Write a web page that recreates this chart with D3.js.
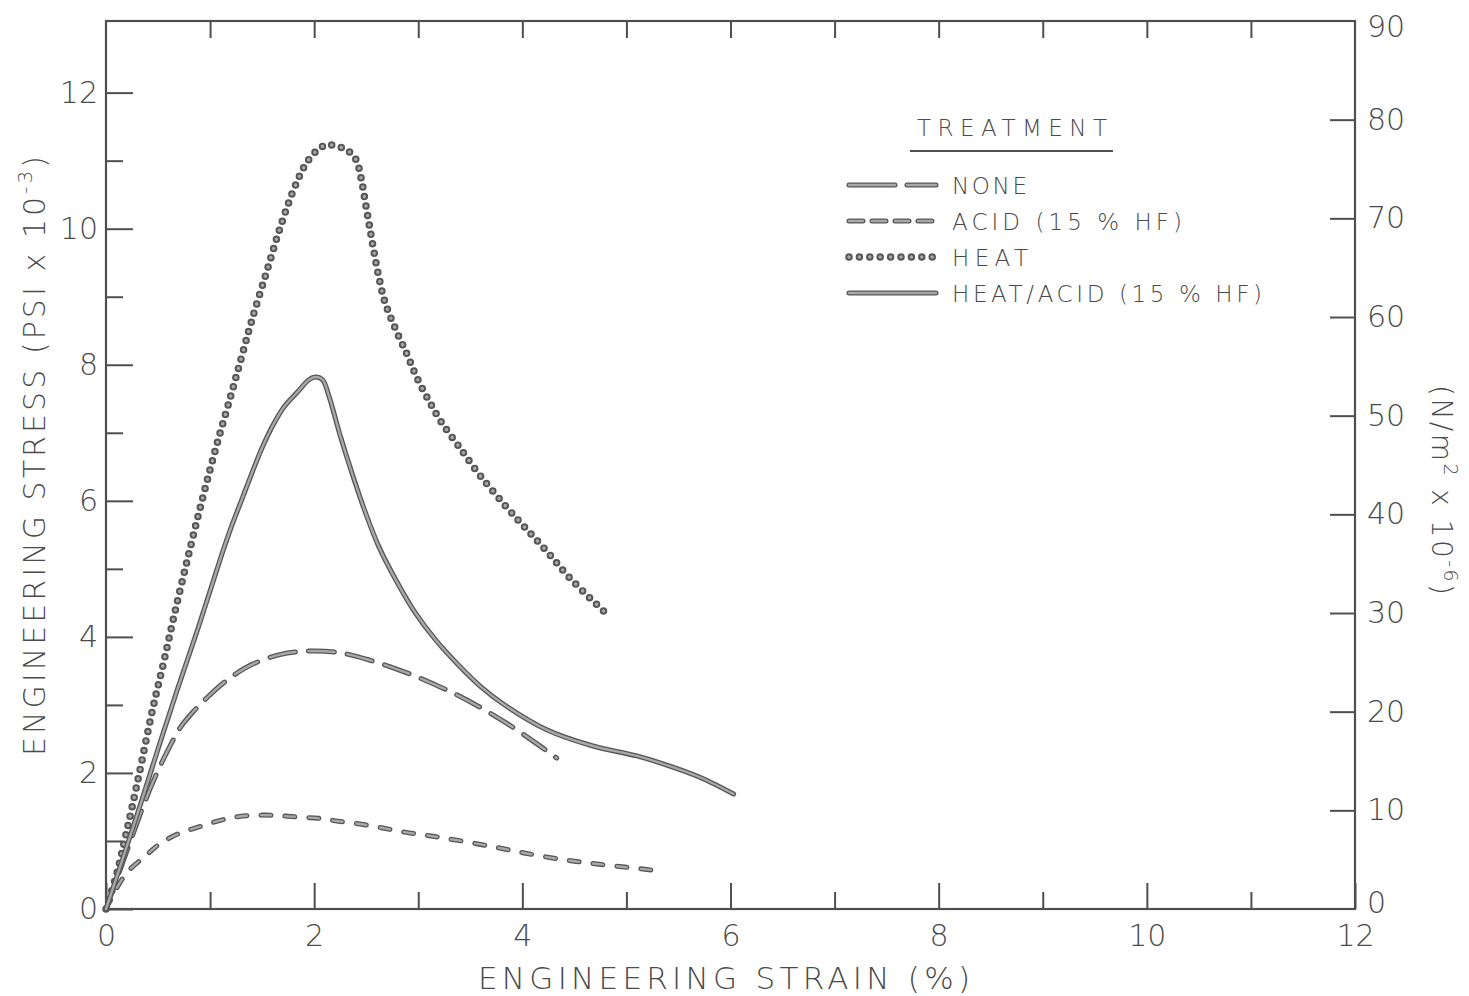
<!DOCTYPE html>
<html>
<head>
<meta charset="utf-8">
<script src="https://cdn.jsdelivr.net/npm/d3@7"></script>
<style>
  body { margin: 0; background: #fff; }
  text { font-family: "DejaVu Sans", "Liberation Sans", sans-serif; fill: #4a4a4a; }
</style>
</head>
<body>
<div id="wrapper"></div>
<script>
// strain (%), stress (psi x 10^-3)
const noneData = [[0,0],[0.2,0.85],[0.38,1.6],[0.49,2.0],[0.6,2.35],[0.72,2.68],[0.85,2.92],[0.98,3.12],[1.11,3.3],[1.24,3.45],[1.41,3.6],[1.67,3.74],[1.93,3.79],[2.23,3.77],[2.53,3.66],[2.91,3.46],[3.3,3.2],[3.6,2.96],[3.86,2.72],[4.12,2.45],[4.33,2.22]]
const acidData = [[0,0],[0.1,0.3],[0.21,0.55],[0.38,0.78],[0.51,0.95],[0.7,1.11],[0.9,1.21],[1.09,1.3],[1.28,1.36],[1.5,1.38],[1.67,1.37],[1.86,1.35],[2.06,1.33],[2.23,1.29],[2.44,1.25],[2.66,1.19],[2.87,1.13],[3.09,1.08],[3.3,1.03],[3.56,0.96],[3.77,0.9],[4.03,0.82],[4.37,0.73],[4.67,0.67],[5.02,0.61],[5.32,0.56]]
const heatData = [[0,0],[0.1,0.5],[0.2,1.15],[0.3,1.85],[0.45,2.95],[0.55,3.6],[0.66,4.35],[0.8,5.25],[0.93,6.05],[1.06,6.8],[1.2,7.55],[1.3,8.1],[1.4,8.65],[1.54,9.35],[1.67,10.0],[1.81,10.6],[1.94,11.0],[2.08,11.21],[2.16,11.23],[2.31,11.16],[2.4,11.02],[2.45,10.75],[2.49,10.4],[2.53,10.05],[2.57,9.7],[2.62,9.3],[2.68,8.92],[2.78,8.53],[2.89,8.16],[2.99,7.8],[3.11,7.45],[3.22,7.16],[3.39,6.8],[3.59,6.38],[3.83,5.94],[4.03,5.6],[4.24,5.25],[4.46,4.86],[4.78,4.38]]
const heatAcidData = [[0,0],[0.17,0.78],[0.34,1.58],[0.51,2.4],[0.68,3.2],[0.9,4.2],[1.11,5.2],[1.2,5.6],[1.3,6.0],[1.4,6.4],[1.5,6.78],[1.6,7.1],[1.71,7.38],[1.84,7.6],[1.95,7.78],[2.01,7.82],[2.08,7.78],[2.14,7.55],[2.25,6.96],[2.35,6.47],[2.48,5.88],[2.62,5.33],[2.78,4.85],[2.96,4.38],[3.17,3.95],[3.39,3.58],[3.6,3.27],[3.82,3.01],[4.24,2.63],[4.67,2.4],[5.1,2.25],[5.36,2.13],[5.7,1.94],[6.03,1.69]]

const seriesNames = ["NONE", "ACID (15 % HF)", "HEAT", "HEAT/ACID (15 % HF)"]
const seriesData = [noneData, acidData, heatData, heatAcidData]

const xMajorTicks = [0, 2, 4, 6, 8, 10, 12]
const xMinorTicks = [1, 3, 5, 7, 9, 11]
const yMajorTicks = [0, 2, 4, 6, 8, 10, 12]
const yMinorTicks = [1, 3, 5, 7, 9, 11]
const yRightTicks = [10, 20, 30, 40, 50, 60, 70, 80]
const yRightLabels = [0, 10, 20, 30, 40, 50, 60, 70, 80, 90]

const psiToMpa = 6.895

const dimensions = {
  width: 1469,
  height: 996,
  margin: { top: 21, right: 114, bottom: 87, left: 106 },
}
dimensions.boundedWidth = dimensions.width - dimensions.margin.left - dimensions.margin.right
dimensions.boundedHeight = dimensions.height - dimensions.margin.top - dimensions.margin.bottom

const svg = d3.select("#wrapper").append("svg")
  .attr("width", dimensions.width)
  .attr("height", dimensions.height)

const bounds = svg.append("g")
  .attr("transform", `translate(${dimensions.margin.left},${dimensions.margin.top})`)

const xScale = d3.scaleLinear().domain([0, 12]).range([0, dimensions.boundedWidth])
const yScale = d3.scaleLinear().domain([0, 90 / psiToMpa]).range([dimensions.boundedHeight, 0])
const yRightScale = d3.scaleLinear().domain([0, 90]).range([dimensions.boundedHeight, 0])

const ink = "#4f4f4f"

// frame
bounds.append("rect")
  .attr("width", dimensions.boundedWidth)
  .attr("height", dimensions.boundedHeight)
  .attr("fill", "none")
  .attr("stroke", ink)
  .attr("stroke-width", 2.2)

const styleAxis = g => {
  g.select(".domain").remove()
  g.selectAll(".tick line").attr("stroke", ink).attr("stroke-width", 2)
  g.selectAll(".tick text").attr("fill", "#4a4a4a").style("font-size", "30px")
    .style("font-weight", 300).style("font-family", "\"DejaVu Sans\", sans-serif")
}

// bottom
bounds.append("g")
  .attr("transform", `translate(0,${dimensions.boundedHeight})`)
  .call(d3.axisBottom(xScale).tickValues(xMajorTicks).tickSize(-26).tickPadding(16).tickFormat(d3.format("d")))
  .call(styleAxis)
bounds.append("g")
  .attr("transform", `translate(0,${dimensions.boundedHeight})`)
  .call(d3.axisBottom(xScale).tickValues(xMinorTicks).tickSize(-17).tickFormat(""))
  .call(styleAxis)

// top
bounds.append("g")
  .call(d3.axisTop(xScale).tickValues(d3.range(1, 12)).tickSize(-17).tickFormat(""))
  .call(styleAxis)

// left
bounds.append("g")
  .call(d3.axisLeft(yScale).tickValues(yMajorTicks).tickSize(-27).tickPadding(8).tickFormat(d3.format("d")))
  .call(styleAxis)
bounds.append("g")
  .call(d3.axisLeft(yScale).tickValues(yMinorTicks).tickSize(-17).tickFormat(""))
  .call(styleAxis)

// right
bounds.append("g")
  .attr("transform", `translate(${dimensions.boundedWidth},0)`)
  .call(d3.axisRight(yRightScale).tickValues(yRightTicks).tickSize(-25).tickFormat(""))
  .call(styleAxis)
bounds.append("g")
  .attr("transform", `translate(${dimensions.boundedWidth},0)`)
  .call(d3.axisRight(yRightScale).tickValues(yRightLabels).tickSize(0).tickPadding(12).tickFormat(d3.format("d")))
  .call(styleAxis)
  .call(g => g.selectAll(".tick").filter(d => d === 90).select("text").attr("dy", "0.5em"))
  .call(g => g.selectAll(".tick").filter(d => d === 0).select("text").attr("dy", "0.1em"))

// curves
const lineGenerator = d3.line()
  .x(d => xScale(d[0]))
  .y(d => yScale(d[1]))
  .curve(d3.curveCatmullRom.alpha(0.5))

const lineStyles = [
  { dash: "26 13", outer: 5, inner: 2.4 },
  { dash: "10 14", outer: 5, inner: 2.4 },
  { dash: "0 9.6", outer: 7.5, inner: 3.6 },
  { dash: null, outer: 5, inner: 2.4 },
]
const legendDashes = ["46 12", "14 9", "0 10.4", null]

const drawStroke = (sel, style, d, dash) => {
  sel.append("path")
    .attr("d", d)
    .attr("fill", "none")
    .attr("stroke", "#565656")
    .attr("stroke-width", style.outer)
    .attr("stroke-linecap", "round")
    .attr("stroke-dasharray", dash)
  sel.append("path")
    .attr("d", d)
    .attr("fill", "none")
    .attr("stroke", "#a8a8a8")
    .attr("stroke-width", style.inner)
    .attr("stroke-linecap", "round")
    .attr("stroke-dasharray", dash)
}

const curveLayer = bounds.append("g")
seriesData.forEach((data, i) => {
  drawStroke(curveLayer.append("g"), lineStyles[i], lineGenerator(data), lineStyles[i].dash)
})

// legend
const legend = svg.append("g")
legend.append("text")
  .attr("x", 917).attr("y", 136)
  .attr("textLength", 190).attr("lengthAdjust", "spacing")
  .style("font-size", "23px").style("font-weight", 300)
  .text("TREATMENT")
legend.append("line")
  .attr("x1", 910).attr("x2", 1113).attr("y1", 151).attr("y2", 151)
  .attr("stroke", ink).attr("stroke-width", 2.2)

const legendRowY = [185, 221, 257, 293]
const legendTextLengths = [75, 230, 76, 310]
seriesNames.forEach((name, i) => {
  const row = legend.append("g")
  drawStroke(row, lineStyles[i], `M849,${legendRowY[i]}H936`, legendDashes[i])
  row.append("text")
    .attr("x", 952).attr("y", legendRowY[i] + 9)
    .attr("textLength", legendTextLengths[i]).attr("lengthAdjust", "spacing")
    .style("font-size", "23px").style("font-weight", 300)
    .text(name)
})

// axis titles
svg.append("text")
  .attr("x", 478).attr("y", 989)
  .attr("textLength", 492).attr("lengthAdjust", "spacing")
  .style("font-size", "31px").style("font-weight", 300)
  .text("ENGINEERING STRAIN (%)")

const yTitle = svg.append("text")
  .attr("transform", "translate(45,756) rotate(-90)")
  .attr("textLength", 600).attr("lengthAdjust", "spacing")
  .style("font-size", "30px").style("font-weight", 300)
yTitle.append("tspan").text("ENGINEERING STRESS (PSI x 10")
yTitle.append("tspan").attr("dy", -13).style("font-size", "20px").text("-3")
yTitle.append("tspan").attr("dy", 13).text(")")

const rTitle = svg.append("text")
  .attr("transform", "translate(1432,385) rotate(90)")
  .attr("textLength", 210).attr("lengthAdjust", "spacing")
  .style("font-size", "28px").style("font-weight", 300)
rTitle.append("tspan").text("(N/m")
rTitle.append("tspan").attr("dy", -12).style("font-size", "19px").text("2")
rTitle.append("tspan").attr("dy", 12).text(" x 10")
rTitle.append("tspan").attr("dy", -12).style("font-size", "19px").text("-6")
rTitle.append("tspan").attr("dy", 12).text(")")
</script>
</body>
</html>
